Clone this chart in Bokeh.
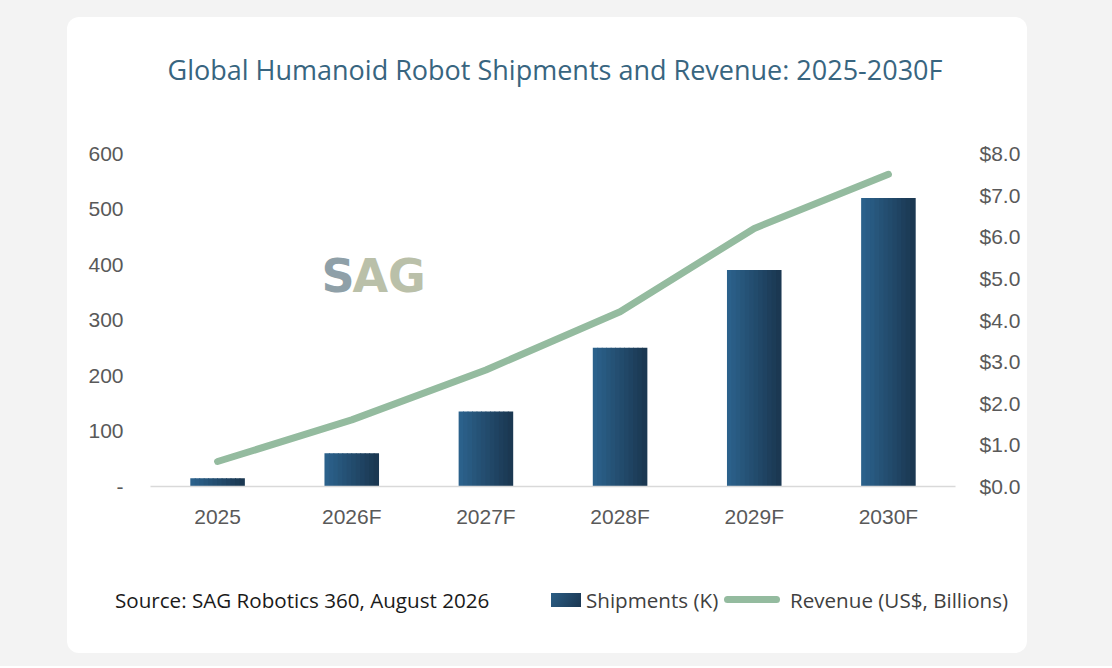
from bokeh.plotting import figure
from bokeh.models import (FactorRange, Range1d, LinearAxis, FixedTicker, Label,
                          ColumnDataSource, PrintfTickFormatter,
                          Row, Column, Spacer, Div)
from bokeh.transform import dodge
from bokeh.embed import file_html
from bokeh.resources import INLINE

years = ["2025", "2026F", "2027F", "2028F", "2029F", "2030F"]
shipments = [15, 60, 135, 250, 390, 520]
revenue = [0.6, 1.6, 2.8, 4.2, 6.2, 7.5]
left_ticks = [0, 100, 200, 300, 400, 500, 600]
right_ticks = [0, 1, 2, 3, 4, 5, 6, 7, 8]

title_text = "Global Humanoid Robot Shipments and Revenue: 2025-2030F"
source_text = "Source: SAG Robotics 360, August 2026"
legend_bar = "Shipments (K)"
legend_line = "Revenue (US$, Billions)"

BAR_DARK = "#1f4867"
LINE_COL = "#94bb9f"
TICK_FONT = "Liberation Sans"
TICK_COLOR = "#595959"
TEXT_FONT = "'Open Sans'"

CW = 960            # card width
TOP_H, MAIN_H, BOT_H = 100, 445, 91

# ---- top: title (HTML text)
title_html = (
    f'<div style="width:{CW}px;height:{TOP_H}px;box-sizing:border-box;'
    f'padding-top:34px;padding-left:16px;text-align:center;'
    f'font-family:{TEXT_FONT};font-size:27px;line-height:37px;color:#386580;'
    f'white-space:nowrap;">{title_text}</div>'
)
p_top = Div(text=title_html, width=CW, height=TOP_H, margin=(0, 0, 0, 0))

# ---- main chart
FL, FR, FT, FB = 83, 888, 36, 369
p = figure(width=CW, height=MAIN_H, x_range=FactorRange(*years, range_padding=0),
           y_range=Range1d(0, 600), output_backend="svg", toolbar_location=None,
           min_border_left=FL, min_border_right=CW - FR,
           min_border_top=FT, min_border_bottom=MAIN_H - FB, margin=(0, 0, 0, 0))
p.extra_y_ranges = {"rev": Range1d(0, 8)}
p.outline_line_color = None
p.grid.visible = False
p.background_fill_color = None
p.border_fill_color = None

src = ColumnDataSource(dict(year=years, ship=shipments, rev=revenue))

n = 12
bw = 0.4
light = (43, 97, 139)
dark = (27, 56, 82)
for i in range(n):
    t = i / (n - 1)
    c = tuple(int(round(light[k] + (dark[k] - light[k]) * t)) for k in range(3))
    col = "#%02x%02x%02x" % c
    off = -bw / 2 + bw / n * (i + 0.5)
    p.vbar(x=dodge("year", off, range=p.x_range), top="ship", width=bw / n * 1.2,
           source=src, fill_color=col, line_color=None)

p.line(x="year", y="rev", source=src, y_range_name="rev", line_width=7,
       line_color=LINE_COL, line_cap="round", line_join="round")

xa = p.xaxis[0]
xa.axis_line_color = "#d9d9d9"
xa.axis_line_width = 1.5
xa.major_tick_line_color = None
xa.minor_tick_line_color = None
xa.major_label_standoff = 12
xa.major_label_text_font = TICK_FONT
xa.major_label_text_font_size = "21px"
xa.major_label_text_color = TICK_COLOR

ya = p.yaxis[0]
ya.ticker = FixedTicker(ticks=left_ticks)
ya.major_label_overrides = {0: "-"}
ya.axis_line_color = None
ya.major_tick_line_color = None
ya.minor_tick_line_color = None
ya.major_label_standoff = 21
ya.major_label_text_font = TICK_FONT
ya.major_label_text_font_size = "21px"
ya.major_label_text_color = TICK_COLOR

ra = LinearAxis(y_range_name="rev", ticker=FixedTicker(ticks=right_ticks),
                formatter=PrintfTickFormatter(format="$%.1f"))
ra.axis_line_color = None
ra.major_tick_line_color = None
ra.minor_tick_line_color = None
ra.major_label_standoff = 18
ra.major_label_text_font = TICK_FONT
ra.major_label_text_font_size = "21px"
ra.major_label_text_color = TICK_COLOR
p.add_layout(ra, "right")

# SAG watermark (screen units relative to the frame)
p.add_layout(Label(x=171, y=211, x_units="screen", y_units="screen", text="S",
                   text_align="left", text_baseline="middle", text_font="DejaVu Sans",
                   text_font_style="bold", text_font_size="46px",
                   text_color="#8fa0a8"))
p.add_layout(Label(x=202, y=211, x_units="screen", y_units="screen", text="AG",
                   text_align="left", text_baseline="middle", text_font="DejaVu Sans",
                   text_font_style="bold", text_font_size="46px",
                   text_color="#bac0a9"))

# ---- bottom: source + legend (HTML)
def span(left, top, inner, extra=""):
    return (f'<span style="position:absolute;left:{left}px;top:{top}px;'
            f'white-space:nowrap;{extra}">{inner}</span>')

bot_html = (
    f'<div style="position:relative;width:{CW}px;height:{BOT_H}px;'
    f'font-family:{TEXT_FONT};font-size:20.6px;line-height:26px;">'
    + span(48, 25, source_text, "color:#1a1a1a;")
    + span(484, 31, "", "width:30px;height:14px;background:linear-gradient(120deg,#2a5d84,#1b3752);")
    + span(519, 25, legend_bar, "color:#404040;")
    + span(657, 34, "", f"width:56px;height:7px;border-radius:4px;background:{LINE_COL};")
    + span(723, 25, legend_line, "color:#404040;")
    + '</div>'
)
p_bot = Div(text=bot_html, width=CW, height=BOT_H, margin=(0, 0, 0, 0))

card = Column(children=[p_top, p, p_bot], spacing=0,
              styles={"background-color": "white", "border-radius": "12px",
                      "overflow": "hidden"})
mid = Column(children=[Spacer(width=CW, height=17), card, Spacer(width=CW, height=13)],
             spacing=0)
root = Row(children=[Spacer(width=67, height=666), mid, Spacer(width=85, height=666)],
           spacing=0, styles={"background-color": "#f3f3f3"})

open("out.html", "w").write(file_html(root, INLINE))
